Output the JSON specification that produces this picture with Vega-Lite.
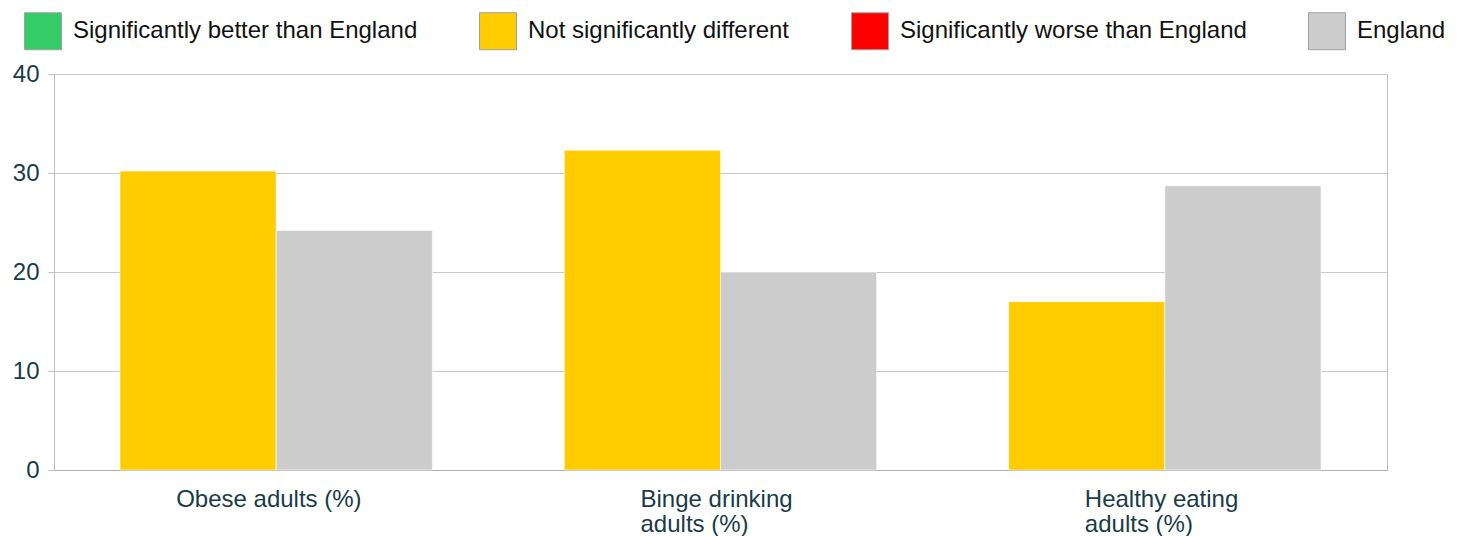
{
  "$schema": "https://vega.github.io/schema/vega-lite/v6.json",
  "width": 1333,
  "height": 396,
  "autosize": {"type": "none"},
  "padding": {"left": 54, "top": 74, "right": 74, "bottom": 66},
  "background": "white",
  "config": {
    "font": "Liberation Sans",
    "view": {"stroke": "#c0c0c0", "strokeWidth": 1},
    "axis": {"gridColor": "#c8c8c8", "domainColor": "#c0c0c0", "tickColor": "#c0c0c0"}
  },
  "data": {
    "values": [
      {"indicator": "Obese adults (%)", "series": "Local", "status": "Not significantly different", "value": 30.2},
      {"indicator": "Obese adults (%)", "series": "England", "status": "England", "value": 24.2},
      {"indicator": "Binge drinking adults (%)", "series": "Local", "status": "Not significantly different", "value": 32.3},
      {"indicator": "Binge drinking adults (%)", "series": "England", "status": "England", "value": 20.0},
      {"indicator": "Healthy eating adults (%)", "series": "Local", "status": "Not significantly different", "value": 17.0},
      {"indicator": "Healthy eating adults (%)", "series": "England", "status": "England", "value": 28.7}
    ]
  },
  "mark": {"type": "bar", "stroke": "#ffffff", "strokeWidth": 0.6},
  "encoding": {
    "x": {
      "field": "indicator",
      "type": "nominal",
      "sort": ["Obese adults (%)", "Binge drinking adults (%)", "Healthy eating adults (%)"],
      "scale": {"paddingInner": 0.297, "paddingOuter": 0.1485},
      "axis": {
        "title": null,
        "labelAngle": 0,
        "ticks": false,
        "labelFont": "Liberation Sans",
        "labelFontSize": 24,
        "labelColor": "#1a3c48",
        "labelAlign": "left",
        "labelBaseline": "top",
        "labelPadding": 17,
        "labelLineHeight": 25,
        "labelOffset": {"condition": {"test": "datum.value == 'Obese adults (%)'", "value": -100}, "value": -80},
        "labelExpr": "datum.value == 'Binge drinking adults (%)' ? ['Binge drinking', 'adults (%)'] : datum.value == 'Healthy eating adults (%)' ? ['Healthy eating', 'adults (%)'] : datum.value",
        "labelLimit": 400,
        "domainColor": "#b0b0b0"
      }
    },
    "xOffset": {"field": "series", "type": "nominal", "sort": ["Local", "England"]},
    "y": {
      "field": "value",
      "type": "quantitative",
      "scale": {"domain": [0, 40], "nice": false},
      "axis": {
        "title": null,
        "values": [0, 10, 20, 30, 40],
        "tickSize": 6,
        "labelPadding": 9,
        "labelFont": "Liberation Sans",
        "labelFontSize": 24,
        "labelColor": "#1a3c48",
        "domainColor": "#c0c0c0",
        "tickColor": "#c0c0c0"
      }
    },
    "color": {
      "field": "status",
      "type": "nominal",
      "scale": {
        "domain": ["Significantly better than England", "Not significantly different", "Significantly worse than England", "England"],
        "range": ["#33cc66", "#ffcc00", "#ff0000", "#cccccc"]
      },
      "legend": {
        "title": null,
        "orient": "none",
        "legendX": -30,
        "legendY": -62,
        "direction": "horizontal",
        "columns": 4,
        "columnPadding": 59,
        "padding": 0,
        "symbolType": "square",
        "symbolSize": 1369,
        "symbolStrokeColor": "#a0a0a0",
        "symbolStrokeWidth": 1,
        "symbolOpacity": 1,
        "labelFont": "Liberation Sans",
        "labelFontSize": 24,
        "labelColor": "#111111",
        "labelOffset": 11,
        "labelLimit": 500
      }
    }
  }
}
